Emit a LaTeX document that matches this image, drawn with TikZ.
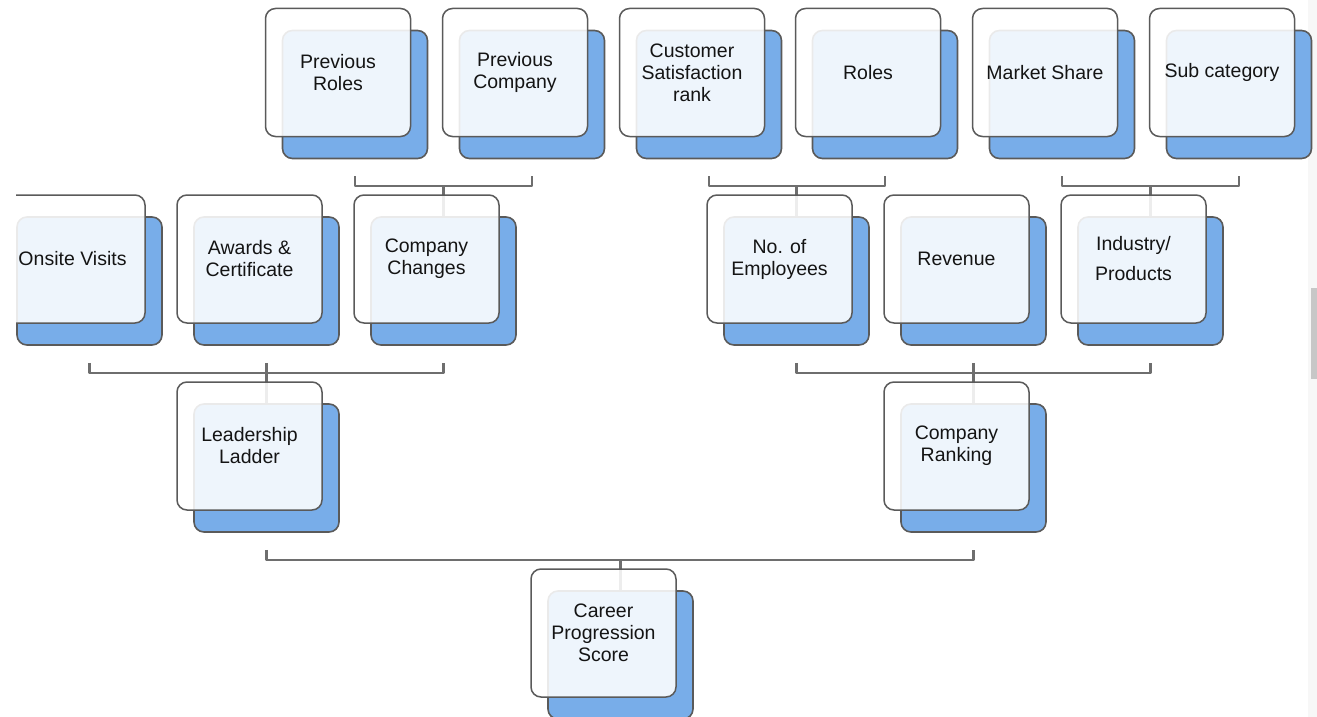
\documentclass[tikz,border=0pt]{standalone}
\usepackage{fontspec}
\setmainfont{Liberation Sans}
\usetikzlibrary{positioning}
\definecolor{shadowblue}{RGB}{120,173,233}
\definecolor{edgegray}{RGB}{90,90,90}
\definecolor{linkgray}{RGB}{110,110,110}
\begin{document}
\begin{tikzpicture}[x=1pt,y=-1pt,line join=round,line cap=round,
 back/.style={draw=edgegray,line width=1.6pt,fill=shadowblue,rounded corners=10pt,minimum width=145pt,minimum height=128pt,inner sep=0pt},
 front/.style={draw=edgegray,line width=1.5pt,fill=white,fill opacity=0.88,text opacity=1,rounded corners=10pt,minimum width=145pt,minimum height=128pt,inner sep=2pt,align=center,text=black!92,font=\fontsize{19.5}{22}\selectfont},
 link/.style={draw=linkgray,line width=2.3pt,line cap=butt}]
\useasboundingbox (0,0) rectangle (1317,717);
% scrollbar
\fill[black!3] (1308,0) rectangle (1317,717);
\fill[black!22] (1311,288) rectangle (1317,379);
\def\boxlist{prevroles/338/72.5/{Previous\\Roles},
 prevcomp/515/72.5/{Previous\\Company},
 custsat/692/72.5/{Customer\\Satisfaction\\rank},
 roles/868/72.5/{Roles},
 market/1045/72.5/{Market Share},
 subcat/1222/72.5/{Sub category},
 onsite/72.5/259/{Onsite Visits},
 awards/249.5/259/{Awards \&\\Certificate},
 compchanges/426.5/259/{Company\\Changes},
 employees/779.5/259/{No. of\\Employees},
 revenue/956.5/259/{Revenue},
 industry/1133.5/259/{Industry\slash\\[8pt]Products},
 leadership/249.5/446/{Leadership\\Ladder},
 ranking/956.5/446/{Company\\Ranking},
 career/603.5/633/{Career\\Progression\\Score}}
\begin{scope}
\clip (16,0) rectangle (1317,717);
% shadows
\foreach \n/\x/\y/\t in \boxlist
 \node[back] (b-\n) at (\x+17,\y+22) {};
% brackets
\foreach \l/\r/\p in {prevroles/prevcomp/compchanges,custsat/roles/employees,market/subcat/industry,onsite/compchanges/leadership,employees/industry/ranking,leadership/ranking/career}{
 \coordinate (j-\p) at ([yshift=30pt]b-\p.north);
 \draw[link] ([yshift=-17pt]b-\l.south) -- (b-\l.south |- j-\p) -- (b-\r.south |- j-\p) -- ([yshift=-17pt]b-\r.south);
 \draw[link] (j-\p) -- (b-\p.north);
}
\draw[link] ([yshift=-17pt]b-awards.south) -- (j-leadership);
\draw[link] ([yshift=-17pt]b-revenue.south) -- (j-ranking);
% boxes
\foreach \n/\x/\y/\t in \boxlist
 \node[front] (\n) at (\x,\y) {\t};
\end{scope}
\end{tikzpicture}
\end{document}
